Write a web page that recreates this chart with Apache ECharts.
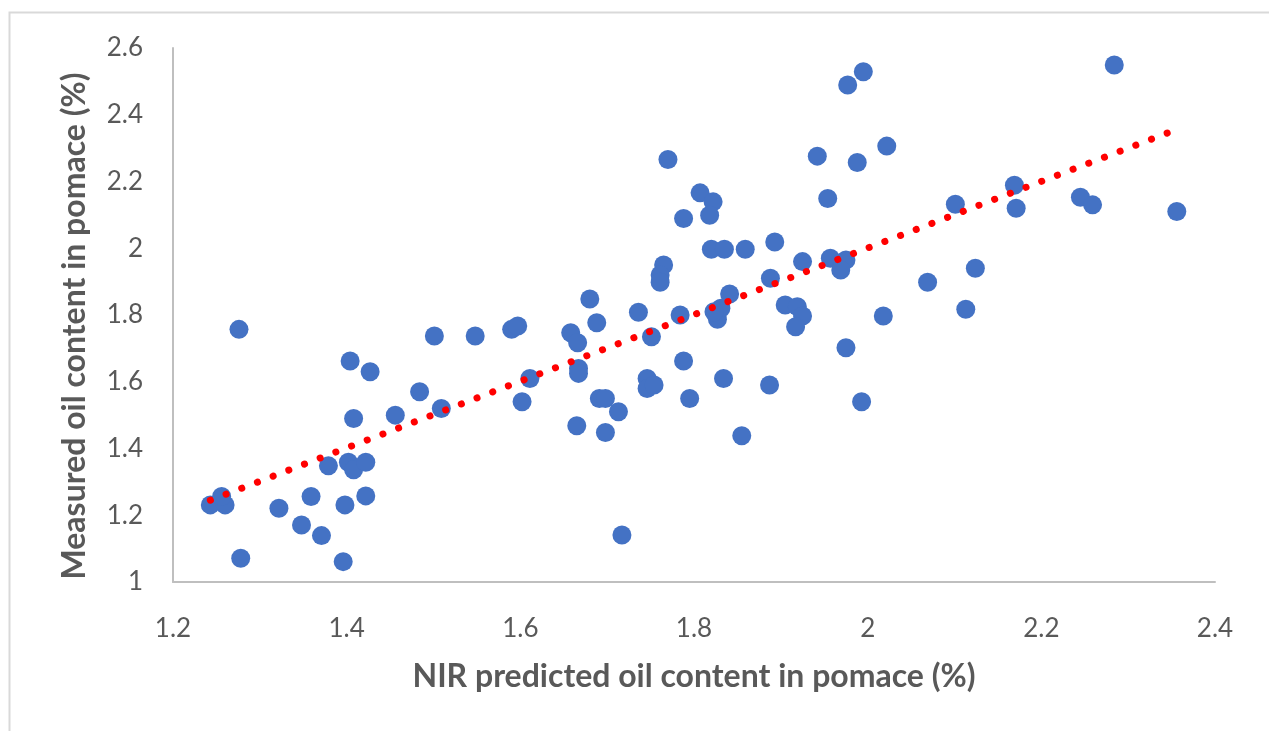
<!DOCTYPE html>
<html>
<head>
<meta charset="utf-8">
<style>
  html, body { margin: 0; padding: 0; background: #ffffff; }
  #chart { width: 1269px; height: 731px; }
</style>
<script src="https://cdn.jsdelivr.net/npm/echarts@6/dist/echarts.min.js"></script>
</head>
<body>
<div id="chart"></div>
<script>
// NIR predicted oil content (%) for each pomace sample
const predicted = [
  1.243, 1.260, 1.256, 1.276, 1.278, 1.322, 1.348, 1.371, 1.359, 1.379,
  1.396, 1.398, 1.422, 1.402, 1.408, 1.422, 1.404, 1.427, 1.408, 1.456,
  1.484, 1.509, 1.501, 1.548, 1.590, 1.597, 1.602, 1.611, 1.680, 1.658,
  1.666, 1.688, 1.667, 1.667, 1.665, 1.691, 1.698, 1.713, 1.698, 1.717,
  1.736, 1.751, 1.746, 1.746, 1.754, 1.784, 1.788, 1.795, 1.827, 1.831,
  1.823, 1.841, 1.834, 1.887, 1.855, 1.905, 1.919, 1.925, 1.917, 1.975,
  1.993, 1.770, 1.807, 1.822, 1.818, 1.788, 1.820, 1.835, 1.859, 1.893,
  1.765, 1.761, 1.761, 1.925, 1.888, 1.977, 1.995, 1.942, 1.954, 1.988,
  1.957, 1.975, 1.969, 2.022, 2.284, 2.101, 2.169, 2.171, 2.245, 2.259,
  2.356, 2.124, 2.069, 2.113, 2.018
];

// Measured oil content (%) for the same samples
const measured = [
  1.231, 1.231, 1.256, 1.757, 1.071, 1.221, 1.171, 1.139, 1.256, 1.348,
  1.061, 1.231, 1.258, 1.359, 1.336, 1.359, 1.662, 1.630, 1.490, 1.500,
  1.570, 1.520, 1.737, 1.737, 1.757, 1.767, 1.540, 1.610, 1.848, 1.747,
  1.717, 1.777, 1.640, 1.625, 1.468, 1.550, 1.550, 1.510, 1.448, 1.141,
  1.808, 1.735, 1.610, 1.580, 1.590, 1.800, 1.662, 1.550, 1.787, 1.820,
  1.810, 1.863, 1.610, 1.590, 1.438, 1.830, 1.825, 1.797, 1.765, 1.702,
  1.540, 2.266, 2.166, 2.139, 2.099, 2.089, 1.997, 1.997, 1.997, 2.019,
  1.950, 1.920, 1.898, 1.960, 1.910, 2.489, 2.529, 2.276, 2.149, 2.257,
  1.970, 1.965, 1.935, 2.306, 2.549, 2.132, 2.189, 2.120, 2.153, 2.130,
  2.110, 1.940, 1.898, 1.817, 1.797
];

// Linear trend line end points (predicted, measured)
const trendX = [1.243, 2.356];
const trendY = [1.245, 2.356];

// Axis ranges and tick spacing
const xAxisRange = { min: 1.2, max: 2.4, interval: 0.2 };
const yAxisRange = { min: 1.0, max: 2.6, interval: 0.2 };

const xTitle = 'NIR predicted oil content in pomace (%)';
const yTitle = 'Measured oil content in pomace (%)';

const points = predicted.map((x, i) => [x, measured[i]]);
const trend = trendX.map((x, i) => [x, trendY[i]]);

const textGray = '#595959';
const axisGray = '#BFBFBF';
const fontFamily = 'Lato, "Open Sans", sans-serif';

const chart = echarts.init(document.getElementById('chart'), null, { renderer: 'canvas' });

chart.setOption({
  backgroundColor: '#ffffff',
  animation: false,
  graphic: [{
    type: 'rect',
    left: 7,
    top: 10,
    shape: { width: 1300, height: 760 },
    style: { fill: 'none', stroke: '#D9D9D9', lineWidth: 2 },
    silent: true,
    z: -10
  }],
  grid: { left: 173, right: 54, top: 48, bottom: 149, containLabel: false },
  xAxis: {
    type: 'value',
    min: xAxisRange.min,
    max: xAxisRange.max,
    interval: xAxisRange.interval,
    name: xTitle,
    nameLocation: 'middle',
    nameGap: 79,
    nameTextStyle: { color: textGray, fontSize: 32, fontWeight: 'bold', fontFamily },
    axisLine: { show: true, lineStyle: { color: axisGray, width: 2 } },
    axisTick: { show: false },
    splitLine: { show: false },
    axisLabel: { color: textGray, fontSize: 26, fontFamily, margin: 34 }
  },
  yAxis: {
    type: 'value',
    min: yAxisRange.min,
    max: yAxisRange.max,
    interval: yAxisRange.interval,
    name: yTitle,
    nameLocation: 'middle',
    nameGap: 82,
    nameTextStyle: { color: textGray, fontSize: 32, fontWeight: 'bold', fontFamily, padding: [0, 22, 0, 0] },
    axisLine: { show: true, lineStyle: { color: axisGray, width: 2 } },
    axisTick: { show: false },
    splitLine: { show: false },
    axisLabel: { color: textGray, fontSize: 26, fontFamily, margin: 30 }
  },
  series: [
    {
      name: 'Samples',
      type: 'scatter',
      data: points,
      symbol: 'circle',
      symbolSize: 19,
      itemStyle: { color: '#4472C4', opacity: 1 },
      z: 2
    },
    {
      name: 'Linear trend',
      type: 'line',
      data: trend,
      symbol: 'none',
      lineStyle: { color: '#FF0000', width: 7, type: [0.1, 16.7], cap: 'round' },
      z: 3
    }
  ]
});
</script>
</body>
</html>
